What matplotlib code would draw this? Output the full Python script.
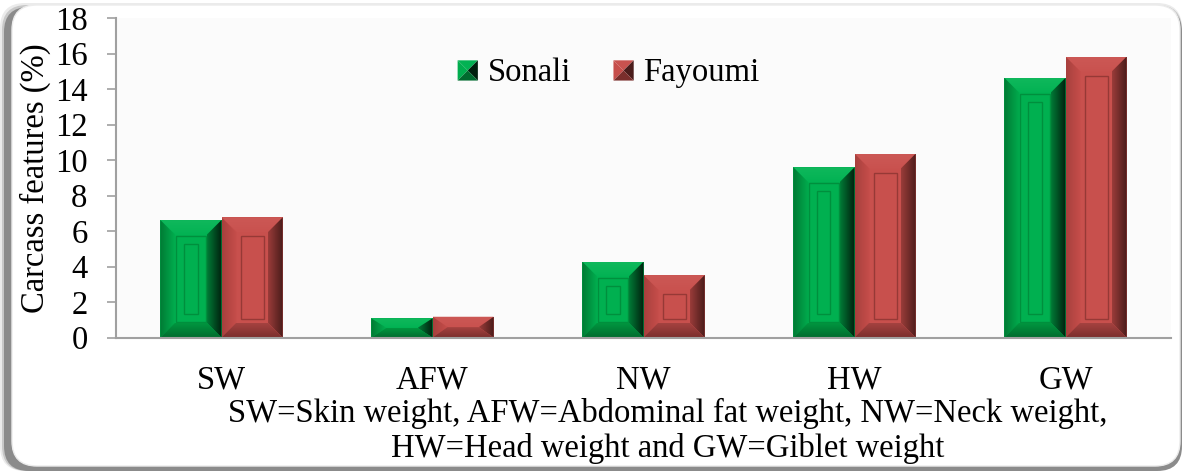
import numpy as np
import matplotlib.pyplot as plt
from matplotlib.colors import to_rgb
from matplotlib.patches import Polygon, Rectangle, FancyBboxPatch
from matplotlib.legend_handler import HandlerBase

plt.rcParams['font.family'] = ['Liberation Serif', 'DejaVu Serif']

categories = ['SW', 'AFW', 'NW', 'HW', 'GW']
sonali = [6.62, 1.08, 4.27, 9.59, 14.63]
fayoumi = [6.77, 1.17, 3.52, 10.36, 15.83]
series_names = ['Sonali', 'Fayoumi']
y_ticks = [0, 2, 4, 6, 8, 10, 12, 14, 16, 18]
footnote = ('SW=Skin weight, AFW=Abdominal fat weight, NW=Neck weight,\n'
            'HW=Head weight and GW=Giblet weight')

FS = 23.5

# bevel colours: (outer edge, inner edge) for each side
green = dict(face='#00b050', top=('#10b85c', '#02b253'), left=('#007a34', '#00ad4e'),
             right=('#00200e', '#007a36'), bottom=('#006a2e', '#00963f'),
             line='#008f3d')
red = dict(face='#c8504d', top=('#cc5855', '#c9524f'), left=('#a8403d', '#c64e4b'),
           right=('#4a1c1b', '#9a3c39'), bottom=('#7a2e2c', '#a54240'),
           line='#963936')

fig = plt.figure(figsize=(11.82, 4.71), dpi=100)

# rounded frame with a soft shadow
px = 1 / 100
for k, a in enumerate([0.08, 0.15, 0.3]):
    off = (3 - k) * 2
    fig.patches.append(FancyBboxPatch(
        ((6 - off) * px, 0), (1176 + off) * px, (462 + off) * px,
        boxstyle='round,pad=0,rounding_size=0.25', transform=fig.dpi_scale_trans,
        facecolor='black', edgecolor='none', alpha=a, zorder=0))
fig.patches.append(FancyBboxPatch(
    (12 * px, 5 * px), 1168 * px, 461 * px,
    boxstyle='round,pad=0,rounding_size=0.25', transform=fig.dpi_scale_trans,
    facecolor='white', edgecolor='#ececec', linewidth=1, zorder=0.5))

ax = fig.add_axes([116 / 1182, 0.2834, 1055 / 1182, 0.6783])
ax.set_zorder(2)
ax.set_facecolor('#fbfbfb')
ax.set_xlim(-0.5, len(categories) - 0.5)
ax.set_ylim(0, 18)

x = np.arange(len(categories))
w = 0.29
bars_s = ax.bar(x - w / 2, sonali, w, color=green['face'], zorder=2)
bars_f = ax.bar(x + w / 2, fayoumi, w, color=red['face'], zorder=2)

p0 = ax.transData.transform((0, 0))
p1 = ax.transData.transform((1, 1))
sx, sy = p1[0] - p0[0], p1[1] - p0[1]


def grad_fill(pts, extent, c_from, c_to, horizontal):
    poly = Polygon(pts, closed=True, facecolor='none', edgecolor='none')
    ax.add_patch(poly)
    t = np.linspace(0, 1, 64)[:, None]
    cols = (1 - t) * np.array(to_rgb(c_from)) + t * np.array(to_rgb(c_to))
    img = cols[None, :, :] if horizontal else cols[:, None, :]
    im = ax.imshow(img, extent=extent, origin='lower', aspect='auto',
                   interpolation='bilinear', zorder=3)
    im.set_clip_path(poly)


def bevel(bar, c, inner_rects):
    x0 = bar.get_x()
    x1 = x0 + bar.get_width()
    h = bar.get_height()
    bx = min(15 / sx, (x1 - x0) / 2)
    by = min(15 / sy, h / 2)
    ix0, ix1, iy0, iy1 = x0 + bx, x1 - bx, by, h - by
    grad_fill([(x0, h), (x1, h), (ix1, iy1), (ix0, iy1)], [x0, x1, iy1, h],
              c['top'][1], c['top'][0], False)
    grad_fill([(x0, 0), (x0, h), (ix0, iy1), (ix0, iy0)], [x0, ix0, 0, h],
              c['left'][0], c['left'][1], True)
    grad_fill([(x1, 0), (x1, h), (ix1, iy1), (ix1, iy0)], [ix1, x1, 0, h],
              c['right'][1], c['right'][0], True)
    grad_fill([(x0, 0), (x1, 0), (ix1, iy0), (ix0, iy0)], [x0, x1, 0, iy0],
              c['bottom'][0], c['bottom'][1], False)
    for ins in inner_rects:
        dx, dy = ins / sx, ins / sy
        if h - 2 * dy > 10 / sy:
            ax.add_patch(Rectangle((x0 + dx, dy), (x1 - x0) - 2 * dx, h - 2 * dy,
                                   facecolor='none', edgecolor=c['line'],
                                   linewidth=1, zorder=4))


for b in bars_s:
    bevel(b, green, [16, 24])
for b in bars_f:
    bevel(b, red, [19])

ax.set_xlim(-0.5, len(categories) - 0.5)
ax.set_ylim(0, 18)

for s in ['top', 'right']:
    ax.spines[s].set_visible(False)
for s in ['left', 'bottom']:
    ax.spines[s].set_color('#a0a0a0')
    ax.spines[s].set_linewidth(1.5)
    ax.spines[s].set_zorder(5)

ax.set_yticks(y_ticks)
ax.set_xticks(x)
ax.set_xticklabels(categories)
ax.tick_params(axis='y', direction='out', length=6.5, width=1.2, color='#a0a0a0',
               labelsize=FS, pad=14)
ax.tick_params(axis='x', length=0, labelsize=FS, pad=19.5)
ax.set_ylabel('Carcass features (%)', fontsize=FS)
ax.yaxis.set_label_coords(-0.062, 0.5)


class BevelSquare(HandlerBase):
    def __init__(self, c):
        super().__init__()
        self.c = c

    def create_artists(self, legend, orig_handle, xdescent, ydescent, width,
                       height, fontsize, trans):
        s = min(width, height)
        x0 = -xdescent + (width - s) / 2
        y0 = -ydescent + (height - s) / 2 - 0.5
        x1, y1 = x0 + s, y0 + s
        cx, cy = x0 + s / 2, y0 + s / 2
        c = self.c
        tris = [
            ([(x0, y1), (x1, y1), (cx, cy)], c['top'][1]),
            ([(x0, y0), (x0, y1), (cx, cy)], c['left'][1]),
            ([(x1, y0), (x1, y1), (cx, cy)], c['right'][0]),
            ([(x0, y0), (x1, y0), (cx, cy)], c['bottom'][0]),
        ]
        return [Polygon(pts, closed=True, facecolor=col, edgecolor='none',
                        transform=trans) for pts, col in tris]


h_s = Rectangle((0, 0), 1, 1, color=green['face'])
h_f = Rectangle((0, 0), 1, 1, color=red['face'])
ax.legend([h_s, h_f], series_names, loc='center', bbox_to_anchor=(0.467, 0.828),
          ncol=2, frameon=False, fontsize=FS, handlelength=0.62, handleheight=0.62,
          handletextpad=0.3, columnspacing=1.3,
          handler_map={h_s: BevelSquare(green), h_f: BevelSquare(red)})

fig.text(668 / 1182, 0.085, footnote, ha='center', va='center',
         multialignment='center', fontsize=FS)

fig.savefig('out.png', dpi=100)
